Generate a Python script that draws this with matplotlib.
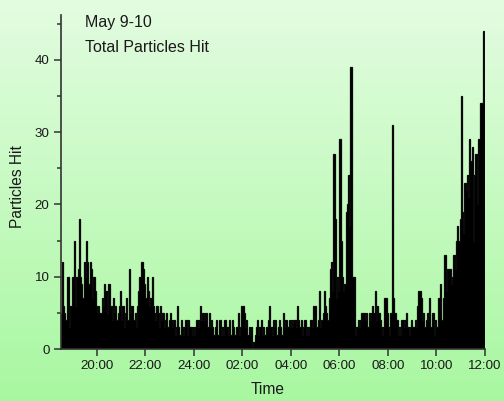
import numpy as np
import matplotlib
matplotlib.use('Agg')
import matplotlib.pyplot as plt
from matplotlib.ticker import MultipleLocator

plt.rcParams['font.family'] = ['Liberation Sans', 'DejaVu Sans']

# particle counts in 3-minute bins, starting 18:30 on May 9
h1830 = [5, 12, 6, 5, 4, 10, 10, 3, 6, 10]
h19 = [10, 15, 6, 10, 11, 18, 10, 9, 7, 12, 10, 15, 12, 9, 12, 11, 7, 10, 8, 6]
h20 = [5, 6, 5, 5, 7, 6, 9, 8, 5, 9, 9, 6, 4, 7, 5, 6, 4, 5, 6, 8]
h21 = [4, 6, 3, 5, 7, 4, 11, 5, 6, 6, 4, 5, 3, 6, 8, 10, 12, 12, 11, 9]
h22 = [7, 10, 8, 6, 7, 10, 6, 5, 4, 6, 5, 3, 6, 4, 5, 3, 4, 5, 3, 4]
h23 = [5, 4, 3, 4, 2, 3, 6, 3, 2, 4, 3, 2, 3, 4, 2, 4, 3, 3, 2, 3]
h24 = [2, 3, 4, 3, 4, 6, 4, 5, 4, 5, 5, 3, 5, 3, 4, 3, 2, 3, 4, 2]
h01 = [2, 4, 2, 3, 2, 4, 3, 3, 2, 4, 2, 4, 3, 2, 2, 3, 5, 2, 3, 6]
h02 = [6, 5, 3, 4, 2, 3, 2, 3, 0, 1, 2, 3, 4, 2, 3, 4, 2, 3, 2, 3]
h03 = [3, 4, 6, 3, 2, 4, 3, 4, 2, 3, 4, 3, 2, 5, 3, 4, 4, 3, 4, 3]
h04 = [4, 3, 4, 4, 3, 6, 4, 3, 4, 2, 3, 4, 2, 3, 2, 3, 4, 3, 6, 6]
h05 = [6, 3, 4, 8, 3, 4, 5, 8, 6, 5, 4, 7, 11, 12, 8, 27, 18, 7, 10, 8]
h06 = [29, 15, 10, 8, 9, 19, 20, 24, 17, 39, 10, 10, 10, 2, 3, 4, 3, 4, 5, 5]
h07 = [5, 4, 5, 3, 5, 4, 5, 6, 5, 8, 4, 6, 5, 4, 3, 2, 3, 7, 7, 5]
h08 = [3, 2, 5, 31, 7, 5, 5, 4, 2, 3, 2, 4, 4, 3, 4, 5, 3, 2, 3, 4]
h09 = [3, 3, 4, 3, 6, 8, 8, 7, 4, 5, 3, 4, 5, 4, 7, 3, 5, 5, 2, 4]
h10 = [3, 7, 7, 9, 4, 7, 13, 13, 8, 11, 11, 11, 9, 10, 13, 11, 15, 17, 15, 18]
h11 = [35, 19, 16, 23, 22, 24, 21, 29, 26, 28, 15, 24, 27, 20, 29, 29, 34, 34, 44, 36]

hits = (h1830 + h19 + h20 + h21 + h22 + h23 + h24 + h01 + h02 + h03
        + h04 + h05 + h06 + h07 + h08 + h09 + h10 + h11)
start_hour = 18.5
bin_hours = 0.05
edges = start_hour + bin_hours * np.arange(len(hits) + 1)

tick_hours = [20, 22, 24, 26, 28, 30, 32, 34, 36]
tick_labels = ['20:00', '22:00', '24:00', '02:00', '04:00', '06:00', '08:00', '10:00', '12:00']

W, H = 504, 401
fig = plt.figure(figsize=(W / 100, H / 100), dpi=100)

# green vertical gradient background
bg = fig.add_axes([0, 0, 1, 1], zorder=-1)
top_c = np.array([0.89, 0.99, 0.88])
bot_c = np.array([0.66, 0.97, 0.63])
g = np.linspace(0, 1, 256)[:, None, None]
bg.imshow(top_c + (bot_c - top_c) * g, aspect='auto', extent=[0, 1, 0, 1])
bg.axis('off')

ax = fig.add_axes([60.6 / W, 52 / H, (485 - 60.6) / W, 334 / H])
ax.patch.set_alpha(0)
ax.stairs(hits, edges, fill=True, facecolor='black', edgecolor='#0a0a0a',
          baseline=0, lw=0.9)

ax.set_xlim(18.5, 36)
ax.set_ylim(0, 46.2)
ax.set_xticks(tick_hours)
ax.set_xticklabels(tick_labels)
ax.set_yticks([0, 10, 20, 30, 40])
ax.yaxis.set_minor_locator(MultipleLocator(5))

for s in ['top', 'right']:
    ax.spines[s].set_visible(False)
for s in ['left', 'bottom']:
    ax.spines[s].set_color('#333333')
    ax.spines[s].set_linewidth(1.2)

ax.tick_params(which='major', direction='out', length=5, width=1.1,
               color='#333333', labelsize=9.6, labelcolor='#1a1a1a', pad=3)
ax.tick_params(which='minor', direction='out', length=3, width=1.1, color='#333333')

ax.set_xlabel('Time', fontsize=11.2, color='#1a1a1a')
ax.set_ylabel('Particles Hit', fontsize=11.2, color='#1a1a1a')
ax.xaxis.set_label_coords((267.5 - 60.6) / (485 - 60.6), -(390 - 349) / 334)
ax.yaxis.set_label_coords(-(60.6 - 18) / (485 - 60.6), (349 - 187) / 334)
ax.xaxis.label.set_va('center')
ax.yaxis.label.set_va('center')

fig.text(85 / W, 1 - 22 / H, 'May 9-10', fontsize=11.5, color='#1a1a1a', va='center')
fig.text(85 / W, 1 - 48 / H, 'Total Particles Hit', fontsize=11.5, color='#1a1a1a', va='center')

fig.savefig('out.png', dpi=100)
